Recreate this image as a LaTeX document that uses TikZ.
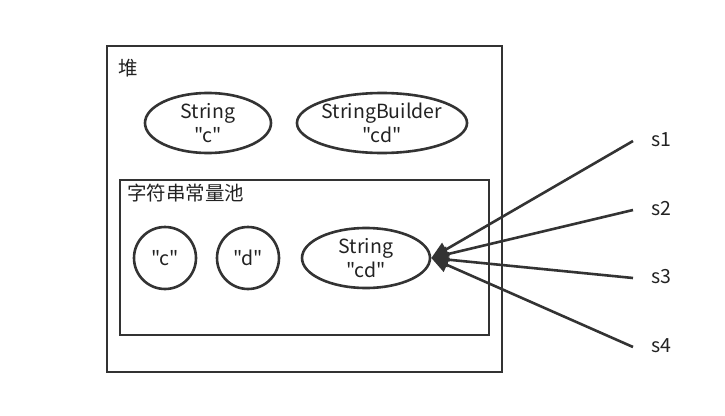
\documentclass[tikz,border=0pt]{standalone}
\usepackage{fontspec}
\newfontfamily\mainf{Noto Sans CJK SC}
\usetikzlibrary{arrows.meta,shapes.geometric}
\definecolor{ink}{HTML}{333333}
\definecolor{txt}{HTML}{222222}
\tikzset{
  box/.style={draw=ink, line width=2.6pt},
  obj/.style={draw=ink, line width=2.6pt, ellipse, inner sep=0pt, align=center, font=\mainf\fontsize{19.5}{24}\selectfont, text=txt},
  lbl/.style={anchor=north west, inner sep=0pt, font=\mainf\fontsize{19.5}{22}\selectfont, text=txt},
  var/.style={inner sep=0pt, font=\mainf\fontsize{19.5}{22}\selectfont, text=txt},
  ref/.style={draw=ink, line width=2.6pt, -{Triangle[length=17pt,width=15pt]}}
}
\begin{document}
\begin{tikzpicture}[x=1pt,y=-1pt]
\useasboundingbox (0,0) rectangle (725,415);
\draw[box] (107,46) rectangle (502,372);
\node[lbl] (heap) at (118,59) {堆};
\draw[box] (120,180) rectangle (489,335);
\node[lbl] (pool) at (127,184) {字符串常量池};
\node[obj, minimum width=126pt, minimum height=60pt] (sc) at (208,123) {String\\"c"};
\node[obj, minimum width=170pt, minimum height=60pt] (sb) at (382,123) {StringBuilder\\"cd"};
\node[obj, circle, minimum size=62pt] (c) at (165,258) {"c"};
\node[obj, circle, minimum size=62pt] (d) at (248,258) {"d"};
\node[obj, minimum width=128pt, minimum height=60pt] (scd) at (366,258) {String\\"cd"};
\coordinate (e1) at (633,141);
\coordinate (e2) at (633,210);
\coordinate (e3) at (633,278);
\coordinate (e4) at (633,347);
\node[var, anchor=west] (s1) at (651,140) {s1};
\node[var, anchor=west] (s2) at (651,209) {s2};
\node[var, anchor=west] (s3) at (651,277) {s3};
\node[var, anchor=west] (s4) at (651,346) {s4};
\foreach \i in {1,2,3,4} \draw[ref] (e\i) -- (scd.east);
\end{tikzpicture}
\end{document}
